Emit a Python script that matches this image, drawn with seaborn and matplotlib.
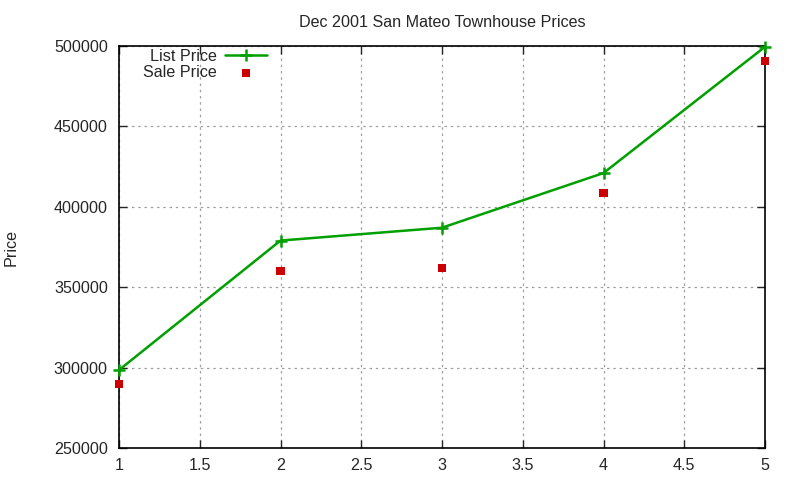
import matplotlib
matplotlib.use("Agg")
import matplotlib.pyplot as plt
import seaborn as sns
import pandas as pd

# data
index = [1, 2, 3, 4, 5]
list_price = [298500, 379000, 387000, 421000, 499500]
sale_price = [290000, 360000, 362000, 408500, 490500]
x_ticks = [1, 1.5, 2, 2.5, 3, 3.5, 4, 4.5, 5]
x_tick_labels = ["1", "1.5", "2", "2.5", "3", "3.5", "4", "4.5", "5"]
y_ticks = [250000, 300000, 350000, 400000, 450000, 500000]
y_tick_labels = ["250000", "300000", "350000", "400000", "450000", "500000"]
title = "Dec 2001 San Mateo Townhouse Prices"
y_label = "Price"

df = pd.DataFrame({"x": index, "list": list_price, "sale": sale_price})

sns.set_style("white")
plt.rcParams["font.family"] = ["Liberation Sans", "DejaVu Sans"]

FS = 11.6
fig = plt.figure(figsize=(8, 4.8), dpi=100)
ax = fig.add_axes([119/800, 1-448/480, 646/800, 402/480])

sns.lineplot(data=df, x="x", y="list", ax=ax, color="#00a000", linewidth=1.8,
             marker="+", markersize=8, markeredgewidth=1.8, markeredgecolor="#00a000",
             label="List Price", clip_on=False, zorder=3)
sns.scatterplot(data=df, x="x", y="sale", ax=ax, color="#cc0000", marker="s", s=34,
                edgecolor="none", label="Sale Price", clip_on=False, zorder=4)

ax.set_xlim(1, 5)
ax.set_ylim(250000, 500000)
ax.set_xticks(x_ticks)
ax.set_xticklabels(x_tick_labels)
ax.set_yticks(y_ticks)
ax.set_yticklabels(y_tick_labels)
ax.set_xlabel("")
ax.set_ylabel(y_label, fontsize=FS)
ax.yaxis.set_label_coords((19-119)/646, 0.5)
ax.set_title(title, fontsize=FS, pad=14)

ax.grid(True, color="#a0a0a0", linestyle=(0, (2, 3)), linewidth=0.9)
for s in ax.spines.values():
    s.set_visible(True)
    s.set_color("black")
    s.set_linewidth(1.2)
ax.tick_params(axis="both", direction="in", length=6, width=1, labelsize=FS,
               top=True, right=True, bottom=True, left=True)
ax.tick_params(axis="x", pad=7)
ax.tick_params(axis="y", pad=8)

leg = ax.legend(loc="upper right", bbox_to_anchor=(267/800, 1-49/480),
                bbox_transform=fig.transFigure, frameon=False,
                markerfirst=False, fontsize=FS, handlelength=2.6,
                borderaxespad=0, borderpad=0, labelspacing=0.05, handletextpad=0.5)
for t in leg.get_texts():
    t.set_ha("right")
    t.set_position((0, 0))

fig.savefig("out.png", dpi=100)
